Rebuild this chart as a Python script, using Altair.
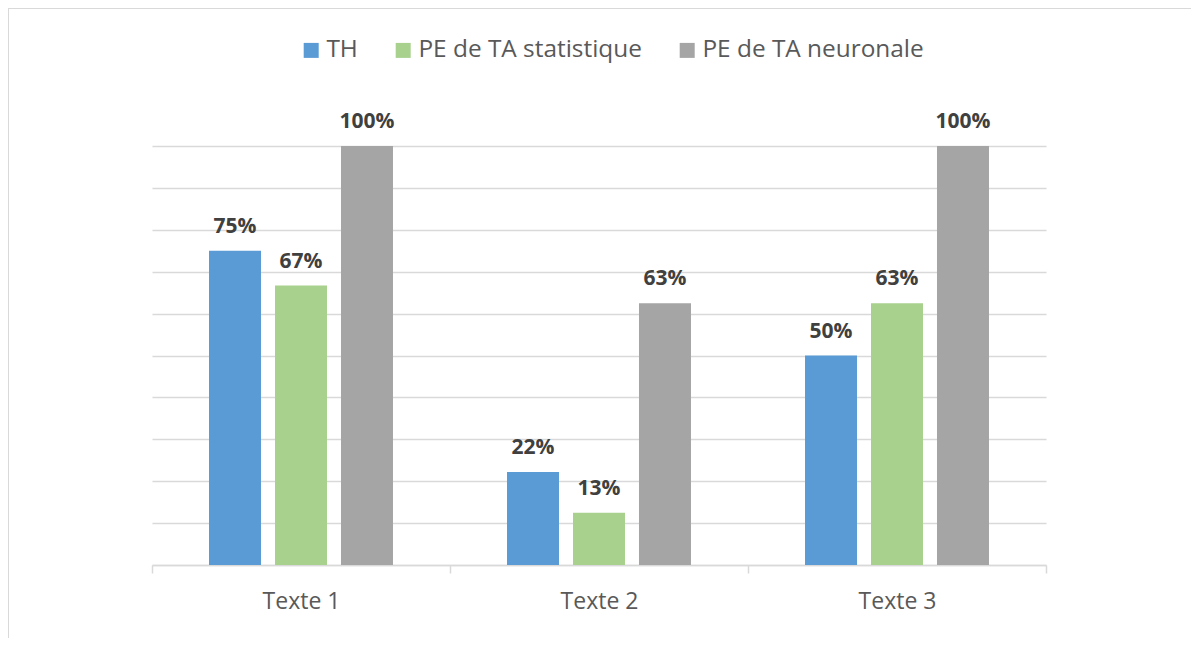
import altair as alt
import pandas as pd

categories = ["Texte 1", "Texte 2", "Texte 3"]
series = ["TH", "PE de TA statistique", "PE de TA neuronale"]
colors = ["#5B9BD5", "#A9D18E", "#A5A5A5"]
th = [0.75, 0.222, 0.50]
pe_stat = [0.667, 0.125, 0.625]
pe_neur = [1.00, 0.625, 1.00]
grid_values = [0, 0.1, 0.2, 0.3, 0.4, 0.5, 0.6, 0.7, 0.8, 0.9, 1.0]

rows = []
for i, c in enumerate(categories):
    for s, vals in zip(series, [th, pe_stat, pe_neur]):
        rows.append({"cat": c, "serie": s, "value": vals[i]})
df = pd.DataFrame(rows)

FONT = "Open Sans"
W, H = 894, 419
PAD = {"left": 144, "top": 138, "right": 145, "bottom": 73}

x = alt.X("cat:N", sort=categories, title=None,
          scale=alt.Scale(paddingInner=0, paddingOuter=0),
          axis=alt.Axis(labelAngle=0, labelFont=FONT, labelFontSize=23,
                        labelColor="#595959", labelBaseline="alphabetic",
                        labelPadding=35, tickBand="extent", tickSize=8,
                        tickColor="#D9D9D9", tickWidth=1.5,
                        domainColor="#D9D9D9", domainWidth=1.5, grid=False))
xo = alt.XOffset("serie:N", sort=series,
                 scale=alt.Scale(domain=series, paddingInner=0.212, paddingOuter=0.864))
y = alt.Y("value:Q", title=None,
          scale=alt.Scale(domain=[0, 1], nice=False, zero=True),
          axis=alt.Axis(values=grid_values, labels=False, ticks=False, domain=False,
                        grid=True, gridColor="#D9D9D9", gridWidth=1.3))

base = alt.Chart(df)

bars = base.mark_bar().encode(
    x=x, xOffset=xo, y=y,
    color=alt.Color("serie:N", title=None,
                    scale=alt.Scale(domain=series, range=colors),
                    legend=alt.Legend(orient="none", direction="horizontal",
                                      legendX=147, legendY=-108,
                                      symbolType="square", symbolSize=225,
                                      symbolStrokeWidth=0, symbolOpacity=1,
                                      labelFont=FONT, labelFontSize=24.4,
                                      labelColor="#595959", labelOffset=3,
                                      labelLimit=0, columnPadding=33)),
)

labels = base.mark_text(font=FONT, fontSize=21, fontWeight="bold", color="#404040",
                        baseline="alphabetic", dy=-18).encode(
    x=x, xOffset=xo, y=y,
    text=alt.Text("value:Q", format=".0%"),
)

border_top = alt.Chart(df).mark_rule(color="#D9D9D9", strokeWidth=1).encode(
    x=alt.value(-143.5), x2=alt.value(1039), y=alt.value(-137.5))
border_left = alt.Chart(df).mark_rule(color="#D9D9D9", strokeWidth=1).encode(
    x=alt.value(-143.5), y=alt.value(-137.5), y2=alt.value(495))

chart = alt.layer(border_top, border_left, bars, labels).properties(
    width=W, height=H,
    autosize=alt.AutoSizeParams(type="none"),
    padding=PAD,
    background="white",
).configure_view(stroke="transparent", strokeWidth=0)

chart.save("out.html", embed_options={"renderer": "svg", "actions": False})
